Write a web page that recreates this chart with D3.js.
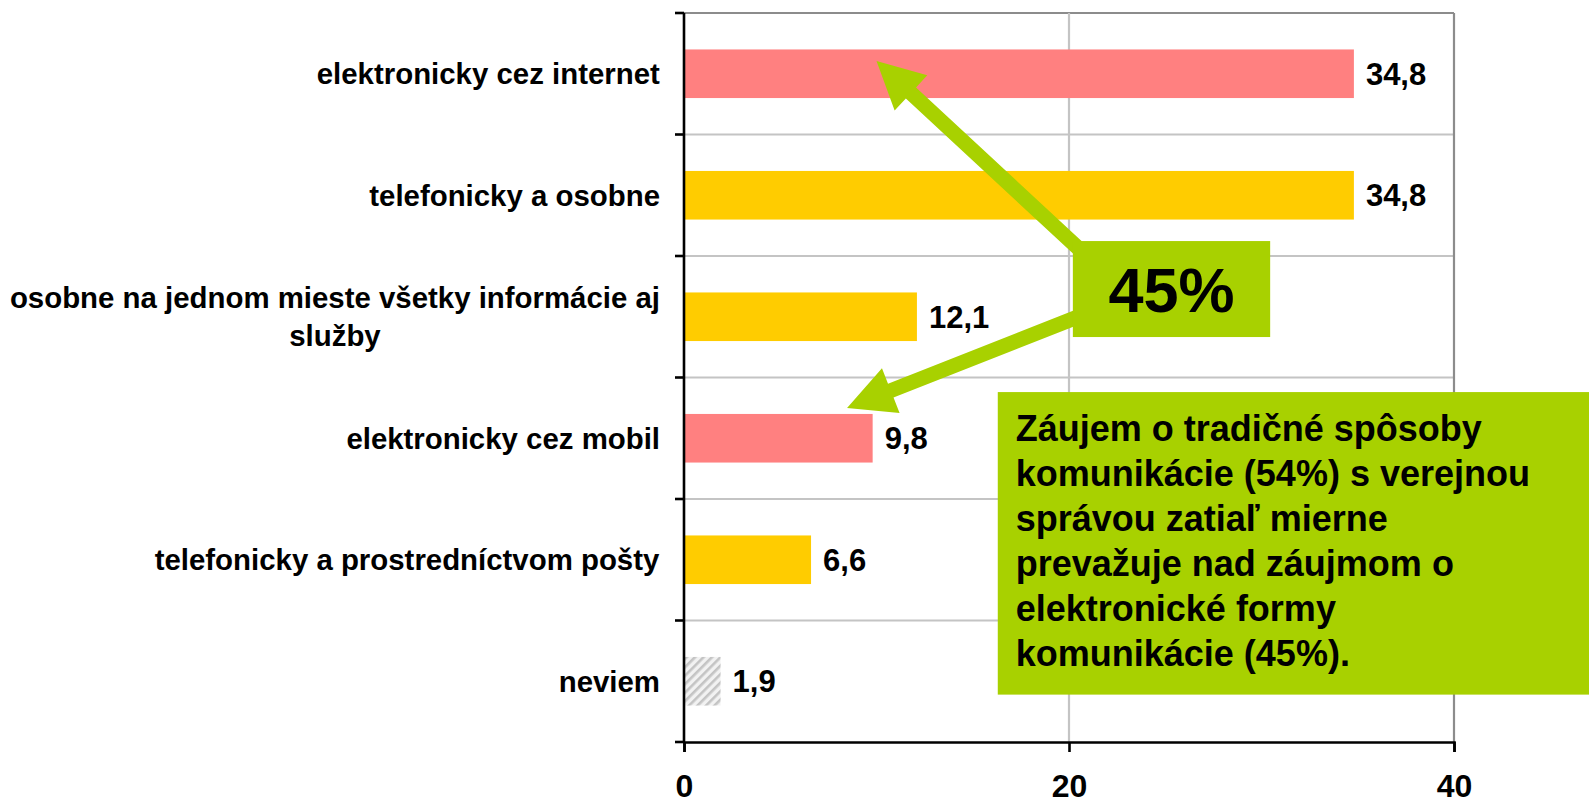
<!DOCTYPE html>
<html>
<head>
<meta charset="utf-8">
<script src="https://cdn.jsdelivr.net/npm/d3@7"></script>
<style>
  body { margin: 0; background: #fff; }
  text { font-family: "Liberation Sans", Arial, sans-serif; font-weight: bold; fill: #000; }
</style>
</head>
<body>
<script>
// data
var categories = [
  ["elektronicky cez internet"],
  ["telefonicky a osobne"],
  ["osobne na jednom mieste všetky informácie aj", "služby"],
  ["elektronicky cez mobil"],
  ["telefonicky a prostredníctvom pošty"],
  ["neviem"]
];
var values = [34.8, 34.8, 12.1, 9.8, 6.6, 1.9];
var kinds = ["el", "trad", "trad", "el", "trad", "nv"];
var xTicks = [0, 20, 40];
var bigCallout = "45%";
var noteLines = [
  "Záujem o tradičné spôsoby",
  "komunikácie (54%) s verejnou",
  "správou zatiaľ mierne",
  "prevažuje nad záujmom o",
  "elektronické formy",
  "komunikácie (45%)."
];

var w = 1589, h = 805;
var margin = { top: 13, left: 684 };
var pw = 770, ph = 729;

var svg = d3.select("body").append("svg").attr("width", w).attr("height", h);

var defs = svg.append("defs");
var pat = defs.append("pattern")
  .attr("id", "hatch")
  .attr("patternUnits", "userSpaceOnUse")
  .attr("width", 6).attr("height", 6)
  .attr("patternTransform", "rotate(45)");
pat.append("rect").attr("width", 6).attr("height", 6).attr("fill", "#f2f2f2");
pat.append("rect").attr("width", 2.6).attr("height", 6).attr("fill", "#c4c4c4");

var keys = categories.map(function (d) { return d.join(" "); });

var x = d3.scaleLinear().domain([0, 40]).range([0, pw]);
var y = d3.scaleBand().domain(keys).range([0, ph]).paddingInner(0.6).paddingOuter(0.3);
var step = y.step();

var color = { el: "#ff8080", trad: "#ffcc00", nv: "url(#hatch)" };

var g = svg.append("g").attr("transform", "translate(" + margin.left + "," + margin.top + ")");

// horizontal gridlines at band boundaries
var bounds = d3.range(0, keys.length + 1);
g.selectAll(".hgrid")
  .data(bounds.slice(0, -1))
  .enter().append("line")
  .attr("x1", 0).attr("x2", pw)
  .attr("y1", function (d) { return d * step; })
  .attr("y2", function (d) { return d * step; })
  .attr("stroke", function (d) { return d === 0 ? "#8c8c8c" : "#c4c4c4"; })
  .attr("stroke-width", 2.2);

// vertical gridlines
g.selectAll(".vgrid")
  .data(xTicks.slice(1))
  .enter().append("line")
  .attr("x1", x).attr("x2", x)
  .attr("y1", 0).attr("y2", ph)
  .attr("stroke", function (d) { return d === 40 ? "#8c8c8c" : "#c4c4c4"; })
  .attr("stroke-width", 2.2);

// bars
g.selectAll(".bar")
  .data(values)
  .enter().append("rect")
  .attr("x", 0)
  .attr("y", function (d, i) { return y(keys[i]); })
  .attr("width", function (d) { return x(d); })
  .attr("height", y.bandwidth())
  .attr("fill", function (d, i) { return color[kinds[i]]; });

// value labels
g.selectAll(".val")
  .data(values)
  .enter().append("text")
  .attr("x", function (d) { return x(d) + 12; })
  .attr("y", function (d, i) { return y(keys[i]) + y.bandwidth() / 2; })
  .attr("dy", "0.36em")
  .style("font-size", "31px")
  .text(function (d) { return d3.format(".1f")(d).replace(".", ","); });

// category labels
var cl = g.selectAll(".cat")
  .data(categories)
  .enter().append("text")
  .attr("text-anchor", "middle")
  .style("font-size", "29.4px")
  .attr("transform", function (d, i) {
    return "translate(0," + (y(keys[i]) + y.bandwidth() / 2) + ")";
  });
cl.each(function (lines) {
  var t = d3.select(this);
  var lh = 38;
  lines.forEach(function (s, j) {
    t.append("tspan")
      .attr("x", 0)
      .attr("y", (j - (lines.length - 1) / 2) * lh)
      .attr("dy", "0.36em")
      .text(s);
  });
});
// right-align the label blocks at x = -24, lines centred between them
cl.each(function () {
  var bb = this.getBBox();
  d3.select(this).attr("transform", d3.select(this).attr("transform") + " translate(" + (-24 - (bb.x + bb.width)) + ",0)");
});

// y axis line and ticks
g.append("line").attr("x1", 0).attr("x2", 0).attr("y1", 0).attr("y2", ph)
  .attr("stroke", "#000").attr("stroke-width", 2.6);
g.selectAll(".ytick")
  .data(bounds)
  .enter().append("line")
  .attr("x1", -9).attr("x2", 0)
  .attr("y1", function (d) { return d * step; })
  .attr("y2", function (d) { return d * step; })
  .attr("stroke", "#000").attr("stroke-width", 2.6);

// x axis
var xAxis = g.append("g")
  .attr("transform", "translate(0," + ph + ")")
  .call(d3.axisBottom(x).tickValues(xTicks).tickSize(10).tickPadding(22).tickFormat(d3.format("d")));
xAxis.select(".domain").attr("stroke", "#000").attr("stroke-width", 2.6);
xAxis.selectAll(".tick line").attr("stroke", "#000").attr("stroke-width", 2.6);
xAxis.selectAll(".tick text").style("font-size", "32px").style("font-family", null).attr("fill", "#000");

// annotations: arrows and callout boxes (data coords: value, band steps)
var green = "#a8d100";
function px(v) { return x(v); }
function py(f) { return f * step; }

var arrows = [
  { tip: [10.0, 0.395], tail: [21.6, 2.1] },
  { tip: [8.47, 3.25], tail: [21.6, 2.43] }
];
function arrowPath(a) {
  var tx = px(a.tip[0]), ty = py(a.tip[1]);
  var sx = px(a.tail[0]), sy = py(a.tail[1]);
  var dx = sx - tx, dy = sy - ty, len = Math.sqrt(dx * dx + dy * dy);
  var ux = dx / len, uy = dy / len, nx = -uy, ny = ux;
  var hl = 47, hw = 24, sw = 7.5;
  var bx = tx + ux * hl, by = ty + uy * hl;
  var pts = [
    [tx, ty],
    [bx + nx * hw, by + ny * hw],
    [bx + nx * sw, by + ny * sw],
    [sx + nx * sw, sy + ny * sw],
    [sx - nx * sw, sy - ny * sw],
    [bx - nx * sw, by - ny * sw],
    [bx - nx * hw, by - ny * hw]
  ];
  return "M" + pts.map(function (p) { return p.join(","); }).join("L") + "Z";
}
g.selectAll(".arrow")
  .data(arrows)
  .enter().append("path")
  .attr("d", arrowPath)
  .attr("fill", green);

// 45% box
var box1 = { x0: 20.2, x1: 30.45, f0: 1.877, f1: 2.667 };
g.append("rect")
  .attr("x", px(box1.x0)).attr("y", py(box1.f0))
  .attr("width", px(box1.x1) - px(box1.x0))
  .attr("height", py(box1.f1) - py(box1.f0))
  .attr("fill", green);
g.append("text")
  .attr("x", (px(box1.x0) + px(box1.x1)) / 2)
  .attr("y", (py(box1.f0) + py(box1.f1)) / 2)
  .attr("dy", "0.36em")
  .attr("text-anchor", "middle")
  .style("font-size", "63px")
  .text(bigCallout);

// note box
var box2 = { x0: 16.3, f0: 3.12, f1: 5.61 };
g.append("rect")
  .attr("x", px(box2.x0)).attr("y", py(box2.f0))
  .attr("width", w - margin.left - px(box2.x0))
  .attr("height", py(box2.f1) - py(box2.f0))
  .attr("fill", green);
g.append("text")
  .style("font-size", "36px")
  .selectAll("tspan")
  .data(noteLines)
  .enter().append("tspan")
  .attr("x", px(box2.x0) + 18)
  .attr("y", function (d, i) { return py(box2.f0) + 36 + i * 45; })
  .attr("dy", "0.36em")
  .text(function (d) { return d; });
</script>
</body>
</html>
